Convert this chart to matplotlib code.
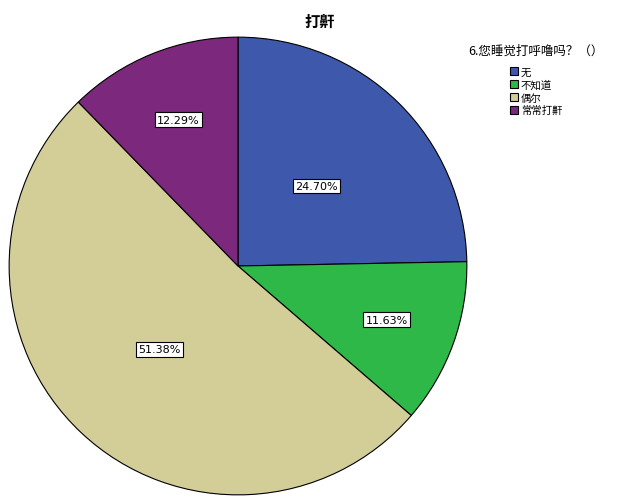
import numpy as np
import matplotlib.pyplot as plt

plt.rcParams['font.family'] = ['Noto Sans CJK SC', 'DejaVu Sans']

TITLE = '打鼾'
LEGEND_TITLE = '6.您睡觉打呼噜吗？（）'
CATEGORIES = ['无', '不知道', '偶尔', '常常打鼾']
PERCENTS = [24.70, 11.63, 51.38, 12.29]
COLORS = ['#3E58AC', '#2EB848', '#D3CE97', '#7C287D']
LABEL_R = [0.49, 0.69, 0.5, 0.69]

fig = plt.figure(figsize=(6.27, 5.02), dpi=100)
ax = fig.add_axes([8 / 627, 1 - 498 / 502, 460 / 627, 462 / 502])

wedges, _ = ax.pie(PERCENTS, colors=COLORS, startangle=90, counterclock=False,
                   wedgeprops=dict(edgecolor='black', linewidth=0.8))
ax.set_xlim(-1.005, 1.005)
ax.set_ylim(-1.005, 1.005)
ax.set_aspect('equal')

for w, pct, r in zip(wedges, PERCENTS, LABEL_R):
    ang = np.deg2rad((w.theta1 + w.theta2) / 2)
    ax.text(r * np.cos(ang), r * np.sin(ang), f'{pct:.2f}%', ha='center', va='center',
            fontsize=8, family='DejaVu Sans',
            bbox=dict(boxstyle='square,pad=0.2', fc='white', ec='black', lw=0.8))

fig.text(320 / 627, 1 - 22 / 502, TITLE, ha='center', va='center', fontsize=11, fontweight='bold')

leg = fig.legend(wedges, CATEGORIES, title=LEGEND_TITLE, loc='upper center',
                 bbox_to_anchor=(536 / 627, 1 - 40 / 502), frameon=False,
                 fontsize=7.5, title_fontsize=9, handlelength=0.8, handleheight=0.8,
                 handletextpad=0.3, labelspacing=0.25, borderpad=0)
leg.get_title().set_position((0, 0))
leg._legend_box.sep = 7

fig.savefig('out.png', dpi=100)
